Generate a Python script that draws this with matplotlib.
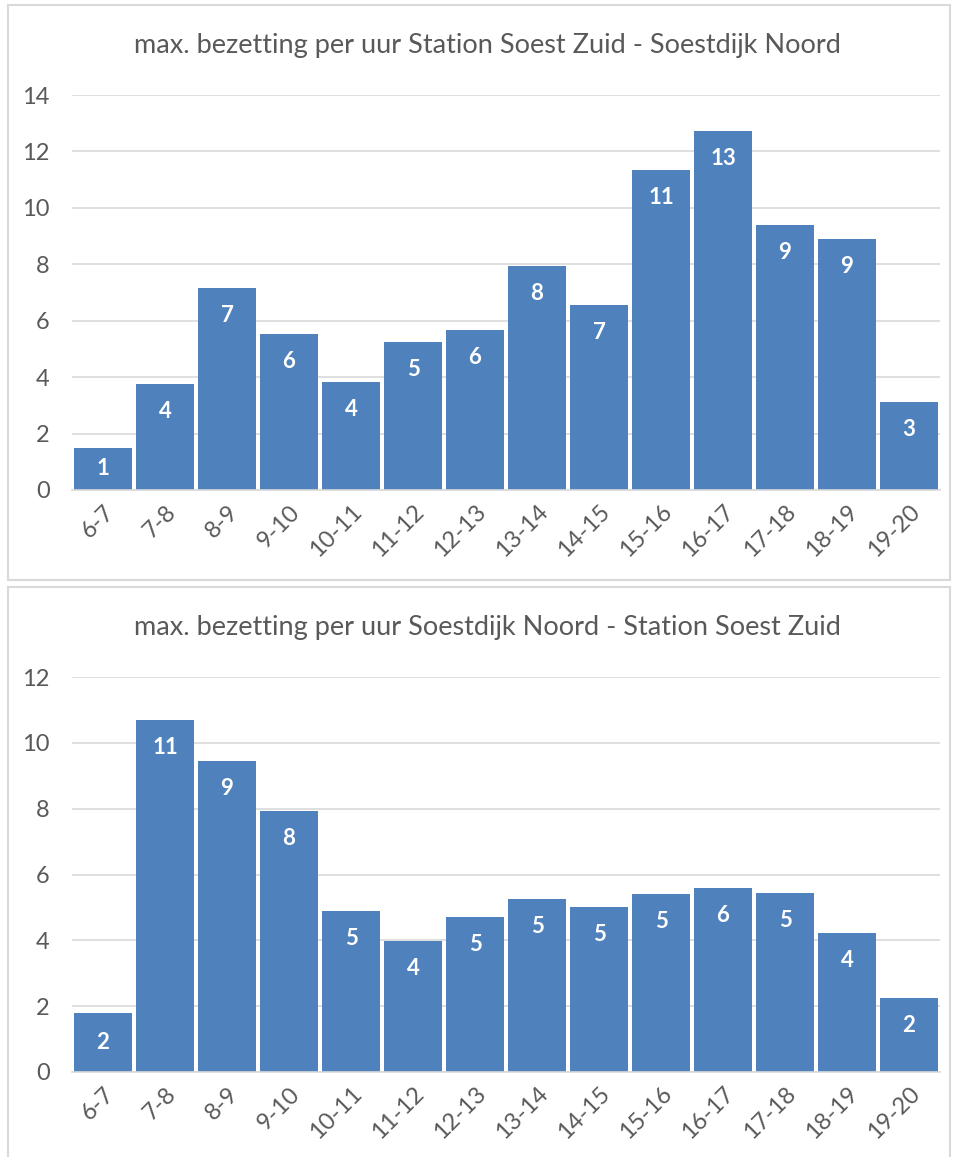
import matplotlib.pyplot as plt
from matplotlib.patches import Rectangle

uren = ["6-7", "7-8", "8-9", "9-10", "10-11", "11-12", "12-13",
        "13-14", "14-15", "15-16", "16-17", "17-18", "18-19", "19-20"]

# Station Soest Zuid -> Soestdijk Noord
heen = [1.49, 3.76, 7.16, 5.53, 3.83, 5.25, 5.67,
        7.94, 6.56, 11.34, 12.73, 9.39, 8.90, 3.12]
# Soestdijk Noord -> Station Soest Zuid
terug = [1.79, 10.69, 9.45, 7.93, 4.89, 3.98, 4.71,
         5.26, 5.01, 5.41, 5.59, 5.44, 4.22, 2.25]

titels = ["max. bezetting per uur Station Soest Zuid - Soestdijk Noord",
          "max. bezetting per uur Soestdijk Noord - Station Soest Zuid"]

plt.rcParams['font.family'] = ['Lato', 'DejaVu Sans']

fig = plt.figure(figsize=(9.59, 11.57), dpi=100)

# chart borders
fig.patches.append(Rectangle((8 / 959, 1 - 580 / 1157), 942 / 959, 575 / 1157,
                             transform=fig.transFigure, fill=False,
                             edgecolor="#D9D9D9", linewidth=1.5))
fig.patches.append(Rectangle((8 / 959, 1 - 1160 / 1157), 942 / 959, 573 / 1157,
                             transform=fig.transFigure, fill=False,
                             edgecolor="#D9D9D9", linewidth=1.5))

ax1 = fig.add_axes([72 / 959, 1 - 490 / 1157, 868 / 959, 395 / 1157])
ax2 = fig.add_axes([72 / 959, 1 - 1072 / 1157, 868 / 959, 395 / 1157])

for ax, data, titel, ymax, title_y in [(ax1, heen, titels[0], 14, 45),
                                      (ax2, terug, titels[1], 12, 628)]:
    x = range(len(uren))
    bars = ax.bar(x, data, width=0.92, color="#4F81BD", zorder=2)
    for b, v in zip(bars, data):
        xc = b.get_x() + b.get_width() / 2
        if v < 2:
            ax.text(xc, v / 2, str(int(round(v))), ha="center", va="center",
                    color="white", fontsize=16, fontweight="bold")
        else:
            ax.annotate(str(int(round(v))), (xc, v),
                        xytext=(0, -20), textcoords="offset points",
                        ha="center", va="center", color="white",
                        fontsize=16, fontweight="bold")
    ax.set_xlim(-0.5, len(uren) - 0.5)
    ax.set_ylim(0, ymax)
    ax.set_yticks(range(0, ymax + 1, 2))
    ax.grid(axis="y", color="#D9D9D9", linewidth=1.2, zorder=0)
    ax.set_axisbelow(True)
    for s in ["top", "right", "left"]:
        ax.spines[s].set_visible(False)
    ax.spines["bottom"].set_color("#D9D9D9")
    ax.spines["bottom"].set_linewidth(1.2)
    ax.tick_params(axis="both", length=0, colors="#595959", labelsize=17)
    ax.tick_params(axis="y", pad=16)
    ax.set_xticks(list(x))
    ax.set_xticklabels(uren, rotation=45, ha="right", rotation_mode="anchor")
    ax.tick_params(axis="x", pad=8)
    fig.text(0.5 + 8 / 959, 1 - title_y / 1157, titel, ha="center", va="center",
             fontsize=19.5, color="#595959")

plt.savefig("out.png", dpi=100)
